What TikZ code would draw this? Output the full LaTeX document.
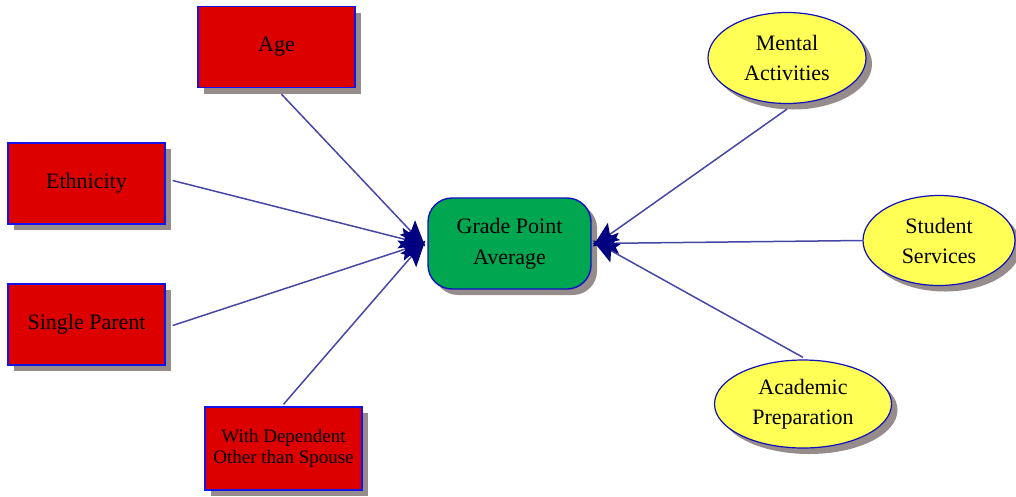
\documentclass[tikz,border=0pt]{standalone}
\usepackage{fontspec}
\setmainfont{Liberation Serif}
\usetikzlibrary{arrows.meta,shapes.geometric,shadows}
\definecolor{boxred}{RGB}{221,0,0}
\definecolor{edgeblue}{RGB}{20,20,230}
\definecolor{ovalyellow}{RGB}{255,255,85}
\definecolor{hubgreen}{RGB}{0,166,80}
\definecolor{linkblue}{RGB}{70,70,165}
\definecolor{tipnavy}{RGB}{0,0,128}
\definecolor{shadowgray}{RGB}{150,140,140}
\begin{document}
\begin{tikzpicture}[x=1pt,y=-1pt,
  shade/.style={drop shadow={shadow xshift=6pt,shadow yshift=-6pt,fill=shadowgray,opacity=1}},
  factor/.style={rectangle,draw=edgeblue,line width=1.4pt,fill=boxred,shade,
    minimum width=157pt,minimum height=81pt,inner sep=0pt,align=center,
    font=\fontsize{22}{30}\selectfont},
  service/.style={ellipse,draw=edgeblue!80!black,line width=1.2pt,fill=ovalyellow,shade,
    inner sep=0pt,align=center,font=\fontsize{22}{30}\selectfont},
  hub/.style={rectangle,rounded corners=24pt,draw=edgeblue!85!black,line width=1.4pt,
    fill=hubgreen,shade,minimum width=163pt,minimum height=91pt,inner sep=0pt,
    align=center,font=\fontsize{22}{31}\selectfont},
  link/.style={draw=linkblue,line width=1.5pt,
    -{Stealth[length=26pt,width=21pt,inset=5pt,color=tipnavy]}}]
\useasboundingbox (0,0) rectangle (1016,496);

% outcome in the middle
\node[hub] (gpa) at (509.5,243.5) {Grade Point\\Average};

% student characteristics on the left
\node[factor] (age) at (276.5,47) {Age};
\node[factor] (eth) at (86.5,183.5) {Ethnicity};
\node[factor] (single) at (86.5,324.5) {Single Parent};
\node[factor,minimum height=83pt,font=\fontsize{19}{21}\selectfont] (dep) at (283.5,448.5)
  {With Dependent\\Other than Spouse};

% activities and services on the right
\node[service,minimum width=158pt,minimum height=91pt] (mental) at (787,58) {Mental\\Activities};
\node[service,minimum width=152pt,minimum height=90pt] (services) at (939,240.5) {Student\\Services};
\node[service,minimum width=177pt,minimum height=88pt] (prep) at (803,404) {Academic\\Preparation};

% influences on GPA
\draw[link] ([xshift=5pt,yshift=-6pt]age.south) -- ([xshift=-2pt,yshift=-3pt]gpa.west);
\draw[link] ([xshift=7pt,yshift=3pt]eth.east) -- ([xshift=-2pt,yshift=-1pt]gpa.west);
\draw[link] ([xshift=7pt,yshift=-1pt]single.east) -- ([xshift=-2pt,yshift=1pt]gpa.west);
\draw[link] ([yshift=2pt]dep.north) -- ([xshift=-2pt,yshift=3pt]gpa.west);
\draw[link] ([yshift=-5pt]mental.south) -- ([xshift=1pt,yshift=-3pt]gpa.east);
\draw[link] (services.west) -- ([xshift=1pt]gpa.east);
\draw[link] ([yshift=2pt]prep.north) -- ([xshift=1pt,yshift=3pt]gpa.east);
\end{tikzpicture}
\end{document}
